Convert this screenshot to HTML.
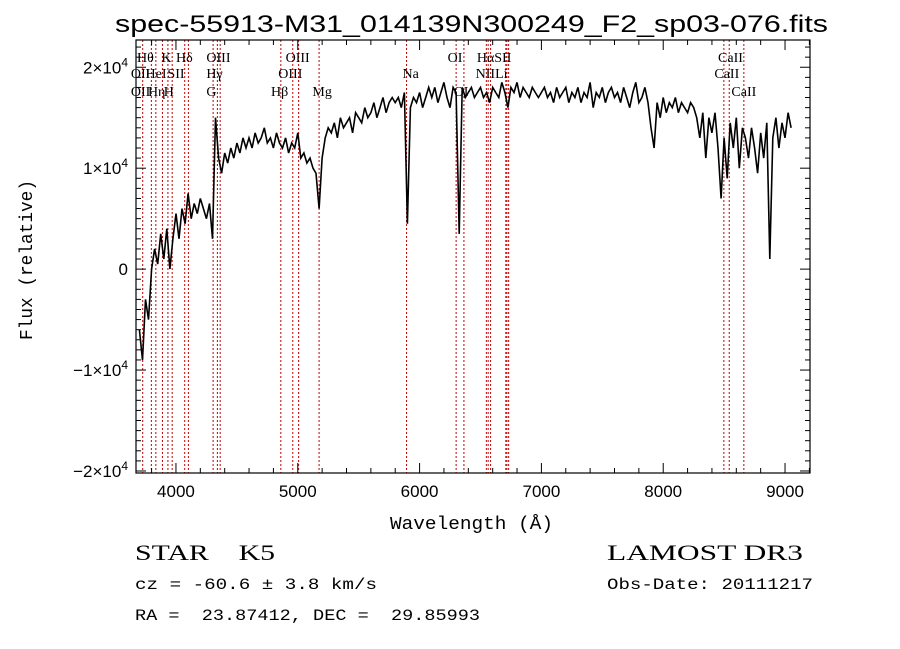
<!DOCTYPE html>
<html><head><meta charset="utf-8"><style>
html,body{margin:0;padding:0;background:#fff;}
svg{display:block;}
text{white-space:pre;}
</style></head><body>
<svg id="chart" width="900" height="649" viewBox="0 0 900 649" xmlns="http://www.w3.org/2000/svg" xml:space="preserve">
<rect width="900" height="649" fill="#fff"/>
<text x="115" y="32" font-family="Liberation Sans, sans-serif" font-size="24" textLength="713" lengthAdjust="spacingAndGlyphs">spec-55913-M31_014139N300249_F2_sp03-076.fits</text>
<g id="lines"></g>
<g id="series"></g>
<g id="axes"></g>
<text x="390" y="529" font-family="Liberation Mono, monospace" font-size="18" textLength="163" lengthAdjust="spacingAndGlyphs">Wavelength (Å)</text>
<text transform="translate(32,340) rotate(-90)" font-family="Liberation Mono, monospace" font-size="18" textLength="160" lengthAdjust="spacingAndGlyphs">Flux (relative)</text>
<text x="135" y="560" font-family="Liberation Serif, serif" font-size="22" textLength="140" lengthAdjust="spacingAndGlyphs">STAR    K5</text>
<text x="607" y="560" font-family="Liberation Serif, serif" font-size="22" textLength="196" lengthAdjust="spacingAndGlyphs">LAMOST DR3</text>
<text x="135" y="589" font-family="Liberation Mono, monospace" font-size="16" textLength="242" lengthAdjust="spacingAndGlyphs">cz = -60.6 ± 3.8 km/s</text>
<text x="607" y="589" font-family="Liberation Mono, monospace" font-size="16" textLength="206" lengthAdjust="spacingAndGlyphs">Obs-Date: 20111217</text>
<text x="135" y="620" font-family="Liberation Mono, monospace" font-size="16" textLength="345" lengthAdjust="spacingAndGlyphs">RA =  23.87412, DEC =  29.85993</text>
</svg>
<script>
const waveStart = 3700;
const waveStep = 25;
const flux = [
-0.6,-0.9,-0.3,-0.5,0.0,0.2,0.05,0.35,0.1,0.4,0.0,0.3,
0.55,0.3,0.6,0.45,0.75,0.5,0.65,0.55,0.7,0.6,0.5,0.65,
0.3,1.5,1.1,0.95,1.15,1.05,1.2,1.1,1.25,1.15,1.3,1.2,
1.3,1.2,1.35,1.25,1.3,1.4,1.25,1.3,1.2,1.35,1.25,1.2,
1.3,1.15,1.25,1.2,1.35,1.1,1.15,1.05,1.1,1.0,0.95,0.6,
1.1,1.3,1.4,1.35,1.45,1.3,1.5,1.4,1.45,1.5,1.35,1.55,
1.5,1.45,1.6,1.5,1.55,1.65,1.5,1.6,1.7,1.55,1.65,1.7,
1.65,1.7,1.6,1.75,0.45,1.6,1.7,1.65,1.75,1.6,1.7,1.8,
1.7,1.8,1.65,1.75,1.85,1.7,1.6,1.8,1.75,0.35,1.8,1.7,
1.75,1.8,1.7,1.75,1.8,1.7,1.75,1.65,1.8,1.75,1.7,1.85,
1.75,1.6,1.8,1.75,1.85,1.7,1.8,1.75,1.7,1.8,1.75,1.7,
1.75,1.8,1.7,1.75,1.65,1.8,1.7,1.75,1.8,1.65,1.75,1.7,
1.8,1.65,1.75,1.7,1.85,1.6,1.75,1.7,1.8,1.65,1.75,1.8,
1.7,1.75,1.65,1.8,1.7,1.6,1.75,1.85,1.65,1.7,1.8,1.65,
1.4,1.2,1.65,1.5,1.7,1.55,1.65,1.6,1.7,1.55,1.65,1.6,
1.55,1.65,1.6,1.5,1.3,1.55,1.1,1.5,1.35,1.55,1.2,0.7,
1.3,0.9,1.45,1.2,1.5,1.0,1.4,1.3,1.1,1.4,1.2,0.95,
1.35,1.1,1.45,0.1,1.3,1.5,1.2,1.45,1.3,1.55,1.4
];
const lineWaves = [3727,3798,3835,3889,3934,3969,4072,4102,4305,4340,4363,4861,4959,5007,5175,5893,6300,6364,6548,6563,6583,6708,6717,6731,8498,8542,8662];
const labelNames = ["Hθ","K","Hδ","OIII","OIII","OI","HαSII","CaII","OII","HeI","SII","Hγ","OIII","Na","NII","Li","CaII","OII","Hη","H","G","Hβ","Mg","OI","CaII"];
const labelWaves = [3680,3880,4000,4250,4900,6230,6470,8450,3630,3750,3930,4250,4840,5860,6460,6620,8420,3630,3770,3900,4250,4780,5120,6280,8560];
const labelRows = [1,1,1,1,1,1,1,1,2,2,2,2,2,2,2,2,2,3,3,3,3,3,3,3,3];
const xTicks = [4000,5000,6000,7000,8000,9000];
const yTicks = [-2,-1,0,1,2];

const L=136,R=810,T=40,B=473;
const xMin=3672,xMax=9205,yMin=-2.02,yMax=2.27;
const sx=w=>L+(w-xMin)/(xMax-xMin)*(R-L);
const sy=f=>B-(f-yMin)/(yMax-yMin)*(B-T);
const NS="http://www.w3.org/2000/svg";
function mk(tag,parent,attrs){const e=document.createElementNS(NS,tag);for(const k in attrs)e.setAttribute(k,attrs[k]);parent.appendChild(e);return e;}

const gl=document.getElementById('lines');
lineWaves.forEach(w=>{
  const l=mk('line',gl,{x1:sx(w),x2:sx(w),y1:T,y2:B,stroke:'#c00000','stroke-width':1,'stroke-dasharray':'2,2'});
  
  
});
const rowY=[0,62,78,96];
labelNames.forEach((n,i)=>{
  const t=mk('text',gl,{x:sx(labelWaves[i]),y:rowY[labelRows[i]],'font-family':'Liberation Serif, serif','font-size':14});
  t.textContent=n;
  
  
});

const gs=document.getElementById('series');
let d='';
flux.forEach((f,i)=>{const w=waveStart+i*waveStep;d+=(i?'L':'M')+sx(w).toFixed(1)+','+sy(f).toFixed(1);});
const p=mk('path',gs,{d:d,fill:'none',stroke:'#000','stroke-width':1.6});



const ga=document.getElementById('axes');
const fr=mk('rect',ga,{x:L,y:T,width:R-L,height:B-T,fill:'none',stroke:'#000','stroke-width':1.2});


for(let w=3800;w<=xMax;w+=200){
  const maj=w%1000===0, len=maj?10:5;
  mk('line',ga,{x1:sx(w),x2:sx(w),y1:B,y2:B-len,stroke:'#000'});
  mk('line',ga,{x1:sx(w),x2:sx(w),y1:T,y2:T+len,stroke:'#000'});
}
xTicks.forEach(w=>{
  const t=mk('text',ga,{x:sx(w),y:B+24,'text-anchor':'middle','font-family':'Liberation Sans, sans-serif','font-size':17});
  t.textContent=w;
  
  
});
for(let v=-2.0;v<=2.25;v+=0.1){
  const vv=Math.round(v*10)/10, maj=Math.abs(vv-Math.round(vv))<1e-6, len=maj?10:5;
  mk('line',ga,{x1:L,x2:L+len,y1:sy(vv),y2:sy(vv),stroke:'#000'});
  mk('line',ga,{x1:R,x2:R-len,y1:sy(vv),y2:sy(vv),stroke:'#000'});
}
yTicks.forEach(v=>{
  const t=mk('text',ga,{x:128,y:sy(v)+6,'text-anchor':'end','font-family':'Liberation Sans, sans-serif','font-size':17});
  
  
  if(v===0){t.textContent='0';}
  else{
    t.textContent=(v<0?'−':'')+Math.abs(v)+'×10';
    const s=mk('tspan',t,{dy:-7,'font-size':12});s.textContent='4';
  }
});
</script>
</body></html>
